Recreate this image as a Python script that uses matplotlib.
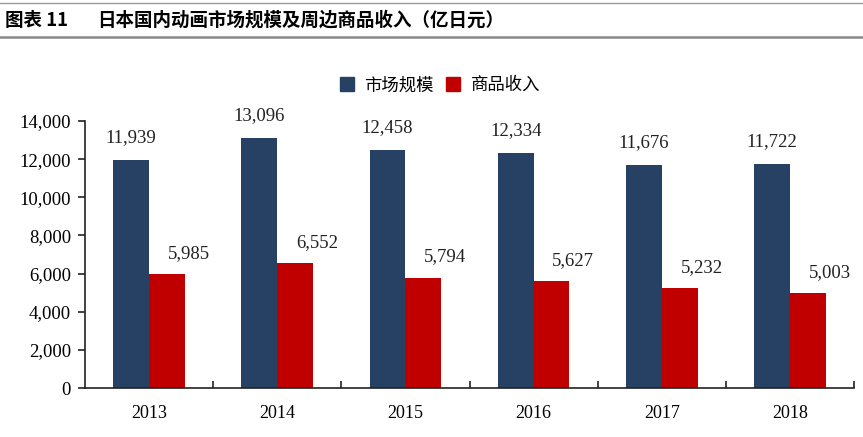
import matplotlib
matplotlib.use("Agg")
import matplotlib.pyplot as plt
import numpy as np
from matplotlib.lines import Line2D
from matplotlib.ticker import FuncFormatter, FixedLocator

plt.rcParams["font.family"] = ["Liberation Serif", "Noto Sans CJK SC", "DejaVu Sans"]

years = ["2013", "2014", "2015", "2016", "2017", "2018"]
market_size = [11939, 13096, 12458, 12334, 11676, 11722]
goods_income = [5985, 6552, 5794, 5627, 5232, 5003]
series_names = ["市场规模", "商品收入"]

blue = "#264164"
red = "#C00000"
cjk = ["Noto Sans CJK SC", "DejaVu Sans"]

fig = plt.figure(figsize=(8.63, 4.37), dpi=100)
ax = fig.add_axes([0.0985, 0.1121, 0.8911, 0.611])

x = np.arange(len(years))
width = 0.28
ax.bar(x - width / 2, market_size, width, color=blue, label=series_names[0])
ax.bar(x + width / 2, goods_income, width, color=red, label=series_names[1])

for xi, v in zip(x, market_size):
    ax.annotate(f"{v:,}", xy=(xi - width / 2, v), xytext=(0, 18), textcoords="offset pixels",
                ha="center", va="baseline", fontsize=13.5, color="#222222")
for xi, v in zip(x, goods_income):
    ax.annotate(f"{v:,}", xy=(xi + width / 2 + 0.17, v), xytext=(0, 16), textcoords="offset pixels",
                ha="center", va="baseline", fontsize=13.5, color="#222222")

ax.set_xlim(-0.5, len(years) - 0.5)
ax.set_ylim(0, 14000)
ax.set_yticks(np.arange(0, 14001, 2000))
ax.yaxis.set_major_formatter(FuncFormatter(lambda v, p: f"{int(v):,}"))
ax.set_xticks(x)
ax.set_xticklabels(years)
ax.xaxis.set_minor_locator(FixedLocator(np.arange(0.5, len(years), 1.0)))
ax.tick_params(axis="x", which="major", length=0, pad=12, labelsize=13)
ax.tick_params(axis="x", which="minor", direction="in", length=5, width=1.2, color="#222222")
ax.tick_params(axis="y", direction="out", length=5, width=1.2, labelsize=13.5, pad=5, color="#222222")

for side in ["top", "right"]:
    ax.spines[side].set_visible(False)
for side in ["left", "bottom"]:
    ax.spines[side].set_linewidth(1.2)
    ax.spines[side].set_color("#222222")

handles = [
    Line2D([], [], marker="s", linestyle="", markersize=10, color=blue),
    Line2D([], [], marker="s", linestyle="", markersize=10, color=red),
]
fig.legend(handles, series_names, loc="center", bbox_to_anchor=(0.509, 0.805), ncol=2, frameon=False,
           prop={"family": cjk, "size": 12.5}, handletextpad=0.5, columnspacing=0.6, handlelength=1.0)

fig.text(0.006, 0.954, "图表 11", fontsize=13.3, fontweight="bold", family=cjk, va="center", ha="left")
fig.text(0.112, 0.954, "日本国内动画市场规模及周边商品收入（亿日元）", fontsize=13.3, fontweight="bold",
         family=cjk, va="center", ha="left")
fig.add_artist(Line2D([0, 1], [0.992, 0.992], color="#999999", linewidth=1.0, transform=fig.transFigure))
fig.add_artist(Line2D([0, 1], [0.915, 0.915], color="#888888", linewidth=1.8, transform=fig.transFigure))

fig.savefig("out.png", dpi=100, facecolor="white")
